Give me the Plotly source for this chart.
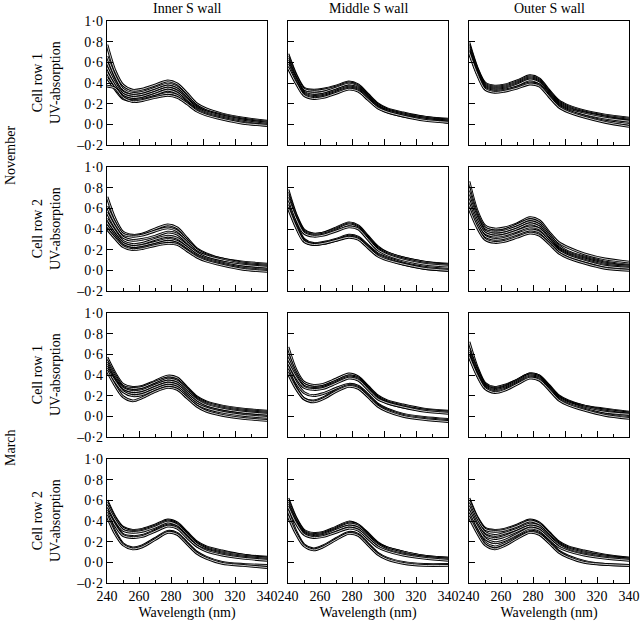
import plotly.graph_objects as go

# Wavelength sample points (nm)
wavelength = [240, 245, 250, 256, 262, 270, 278, 284, 290, 296, 302, 312, 325, 340]

column_titles = ["Inner S wall", "Middle S wall", "Outer S wall"]
row_labels = ["Cell row 1<br>UV-absorption", "Cell row 2<br>UV-absorption",
              "Cell row 1<br>UV-absorption", "Cell row 2<br>UV-absorption"]
season_labels = ["November", "March"]
x_tickvals = [240, 260, 280, 300, 320, 340]
x_ticktext = ["240", "260", "280", "300", "320", "340"]
y_tickvals = [-0.2, 0.0, 0.2, 0.4, 0.6, 0.8, 1.0]
y_ticktext = ["\u20130\u00b72", "0\u00b70", "0\u00b72", "0\u00b74", "0\u00b76", "0\u00b78", "1\u00b70"]

# November, cell row 1
nov_r1_inner = [
    [0.77, 0.52, 0.38, 0.33, 0.34, 0.38, 0.42, 0.39, 0.30, 0.20, 0.15, 0.10, 0.06, 0.03],
    [0.66, 0.47, 0.34, 0.30, 0.31, 0.35, 0.39, 0.36, 0.27, 0.18, 0.13, 0.09, 0.05, 0.02],
    [0.60, 0.42, 0.31, 0.28, 0.29, 0.33, 0.37, 0.34, 0.25, 0.17, 0.12, 0.08, 0.04, 0.01],
    [0.55, 0.40, 0.29, 0.26, 0.27, 0.31, 0.35, 0.32, 0.24, 0.16, 0.12, 0.08, 0.04, 0.01],
    [0.50, 0.37, 0.27, 0.24, 0.25, 0.29, 0.33, 0.30, 0.22, 0.15, 0.11, 0.07, 0.03, 0.00],
    [0.45, 0.34, 0.25, 0.23, 0.24, 0.27, 0.30, 0.28, 0.21, 0.14, 0.10, 0.06, 0.02, -0.01],
    [0.37, 0.35, 0.26, 0.22, 0.23, 0.26, 0.28, 0.26, 0.20, 0.13, 0.09, 0.05, 0.01, -0.01],
]
nov_r1_middle = [
    [0.68, 0.48, 0.35, 0.33, 0.34, 0.37, 0.41, 0.38, 0.29, 0.20, 0.15, 0.11, 0.07, 0.05],
    [0.66, 0.47, 0.34, 0.32, 0.33, 0.36, 0.40, 0.37, 0.28, 0.19, 0.14, 0.10, 0.07, 0.04],
    [0.64, 0.45, 0.32, 0.30, 0.31, 0.35, 0.39, 0.36, 0.27, 0.19, 0.14, 0.10, 0.06, 0.04],
    [0.62, 0.44, 0.31, 0.28, 0.29, 0.33, 0.37, 0.35, 0.26, 0.18, 0.13, 0.09, 0.06, 0.03],
    [0.60, 0.43, 0.30, 0.27, 0.28, 0.32, 0.36, 0.34, 0.26, 0.17, 0.13, 0.09, 0.05, 0.03],
    [0.58, 0.41, 0.29, 0.26, 0.27, 0.31, 0.35, 0.33, 0.25, 0.17, 0.12, 0.08, 0.05, 0.02],
    [0.55, 0.40, 0.28, 0.25, 0.26, 0.30, 0.34, 0.32, 0.24, 0.16, 0.12, 0.08, 0.04, 0.02],
]
nov_r1_outer = [
    [0.79, 0.55, 0.40, 0.37, 0.38, 0.42, 0.47, 0.44, 0.33, 0.23, 0.18, 0.13, 0.09, 0.06],
    [0.77, 0.54, 0.39, 0.36, 0.37, 0.41, 0.46, 0.43, 0.32, 0.22, 0.17, 0.12, 0.08, 0.05],
    [0.76, 0.53, 0.38, 0.35, 0.36, 0.40, 0.45, 0.42, 0.31, 0.21, 0.16, 0.11, 0.07, 0.04],
    [0.74, 0.52, 0.37, 0.34, 0.35, 0.39, 0.44, 0.41, 0.30, 0.20, 0.15, 0.11, 0.07, 0.03],
    [0.72, 0.51, 0.36, 0.33, 0.34, 0.38, 0.43, 0.40, 0.29, 0.19, 0.14, 0.10, 0.06, 0.03],
    [0.71, 0.50, 0.35, 0.32, 0.33, 0.36, 0.40, 0.38, 0.28, 0.18, 0.13, 0.08, 0.03, 0.00],
    [0.70, 0.49, 0.34, 0.31, 0.32, 0.35, 0.39, 0.37, 0.27, 0.17, 0.12, 0.07, 0.02, -0.02],
]

# November, cell row 2
nov_r2_inner = [
    [0.71, 0.50, 0.37, 0.34, 0.35, 0.40, 0.44, 0.41, 0.31, 0.21, 0.16, 0.11, 0.08, 0.06],
    [0.62, 0.46, 0.35, 0.33, 0.34, 0.38, 0.41, 0.38, 0.29, 0.20, 0.15, 0.11, 0.07, 0.05],
    [0.56, 0.42, 0.32, 0.29, 0.30, 0.33, 0.37, 0.35, 0.27, 0.18, 0.14, 0.10, 0.06, 0.04],
    [0.50, 0.38, 0.28, 0.25, 0.26, 0.30, 0.33, 0.31, 0.24, 0.17, 0.12, 0.08, 0.05, 0.03],
    [0.46, 0.35, 0.26, 0.23, 0.24, 0.27, 0.30, 0.28, 0.22, 0.15, 0.11, 0.07, 0.03, 0.01],
    [0.43, 0.33, 0.24, 0.21, 0.22, 0.25, 0.28, 0.26, 0.20, 0.14, 0.10, 0.06, 0.02, 0.00],
    [0.40, 0.31, 0.23, 0.20, 0.21, 0.24, 0.26, 0.25, 0.19, 0.13, 0.09, 0.05, 0.01, -0.01],
]
nov_r2_middle = [
    [0.78, 0.54, 0.39, 0.35, 0.36, 0.41, 0.46, 0.43, 0.33, 0.23, 0.17, 0.12, 0.08, 0.06],
    [0.75, 0.53, 0.38, 0.35, 0.36, 0.40, 0.45, 0.42, 0.32, 0.22, 0.17, 0.12, 0.08, 0.05],
    [0.73, 0.51, 0.37, 0.34, 0.35, 0.39, 0.44, 0.41, 0.31, 0.21, 0.16, 0.11, 0.07, 0.05],
    [0.70, 0.50, 0.36, 0.33, 0.34, 0.38, 0.42, 0.40, 0.30, 0.20, 0.15, 0.10, 0.06, 0.04],
    [0.66, 0.45, 0.30, 0.26, 0.27, 0.30, 0.34, 0.32, 0.24, 0.16, 0.12, 0.07, 0.03, 0.01],
    [0.63, 0.43, 0.29, 0.25, 0.26, 0.29, 0.33, 0.31, 0.23, 0.15, 0.11, 0.06, 0.02, 0.00],
    [0.61, 0.42, 0.28, 0.25, 0.26, 0.29, 0.32, 0.30, 0.22, 0.14, 0.10, 0.06, 0.02, 0.00],
]
nov_r2_outer = [
    [0.86, 0.58, 0.43, 0.40, 0.41, 0.45, 0.51, 0.48, 0.37, 0.27, 0.22, 0.16, 0.11, 0.08],
    [0.80, 0.55, 0.41, 0.38, 0.39, 0.44, 0.49, 0.46, 0.35, 0.24, 0.18, 0.13, 0.08, 0.05],
    [0.76, 0.53, 0.39, 0.37, 0.38, 0.42, 0.47, 0.44, 0.33, 0.22, 0.17, 0.12, 0.07, 0.04],
    [0.72, 0.51, 0.38, 0.35, 0.36, 0.40, 0.45, 0.42, 0.31, 0.21, 0.16, 0.11, 0.06, 0.04],
    [0.68, 0.48, 0.36, 0.33, 0.34, 0.38, 0.42, 0.40, 0.30, 0.20, 0.15, 0.10, 0.05, 0.03],
    [0.64, 0.45, 0.33, 0.30, 0.31, 0.35, 0.39, 0.37, 0.28, 0.19, 0.14, 0.09, 0.04, 0.02],
    [0.60, 0.42, 0.30, 0.27, 0.28, 0.32, 0.36, 0.34, 0.26, 0.17, 0.12, 0.07, 0.02, 0.00],
]

# March, cell row 1
mar_r1_inner = [
    [0.57, 0.42, 0.31, 0.28, 0.29, 0.34, 0.39, 0.37, 0.28, 0.19, 0.14, 0.10, 0.07, 0.05],
    [0.54, 0.40, 0.29, 0.27, 0.28, 0.33, 0.37, 0.35, 0.27, 0.18, 0.13, 0.09, 0.06, 0.04],
    [0.52, 0.38, 0.28, 0.25, 0.26, 0.31, 0.36, 0.34, 0.26, 0.17, 0.12, 0.08, 0.05, 0.03],
    [0.50, 0.36, 0.27, 0.24, 0.25, 0.30, 0.34, 0.32, 0.24, 0.16, 0.11, 0.07, 0.04, 0.02],
    [0.48, 0.35, 0.25, 0.22, 0.23, 0.28, 0.32, 0.30, 0.22, 0.14, 0.09, 0.05, 0.02, 0.00],
    [0.46, 0.34, 0.24, 0.20, 0.21, 0.26, 0.30, 0.28, 0.20, 0.12, 0.08, 0.04, 0.01, -0.01],
    [0.44, 0.30, 0.19, 0.15, 0.18, 0.24, 0.28, 0.26, 0.18, 0.10, 0.05, 0.01, -0.02, -0.04],
]
mar_r1_middle = [
    [0.67, 0.45, 0.33, 0.30, 0.31, 0.36, 0.41, 0.38, 0.29, 0.20, 0.15, 0.11, 0.07, 0.05],
    [0.60, 0.42, 0.31, 0.28, 0.29, 0.34, 0.39, 0.37, 0.28, 0.19, 0.14, 0.10, 0.06, 0.04],
    [0.56, 0.40, 0.29, 0.27, 0.28, 0.33, 0.38, 0.36, 0.27, 0.18, 0.13, 0.09, 0.06, 0.04],
    [0.52, 0.38, 0.28, 0.26, 0.27, 0.32, 0.37, 0.35, 0.26, 0.17, 0.13, 0.09, 0.05, 0.03],
    [0.48, 0.33, 0.23, 0.20, 0.22, 0.27, 0.31, 0.29, 0.21, 0.12, 0.07, 0.02, -0.01, -0.03],
    [0.45, 0.28, 0.17, 0.15, 0.18, 0.25, 0.30, 0.28, 0.20, 0.11, 0.06, 0.01, -0.02, -0.04],
    [0.42, 0.27, 0.17, 0.14, 0.17, 0.24, 0.29, 0.27, 0.19, 0.10, 0.05, 0.00, -0.03, -0.05],
]
mar_r1_outer = [
    [0.72, 0.48, 0.32, 0.28, 0.30, 0.35, 0.41, 0.39, 0.30, 0.20, 0.15, 0.10, 0.07, 0.04],
    [0.66, 0.46, 0.31, 0.27, 0.29, 0.35, 0.41, 0.39, 0.29, 0.19, 0.14, 0.10, 0.06, 0.03],
    [0.64, 0.45, 0.30, 0.26, 0.28, 0.34, 0.40, 0.38, 0.29, 0.19, 0.14, 0.09, 0.06, 0.03],
    [0.62, 0.44, 0.30, 0.26, 0.28, 0.34, 0.40, 0.38, 0.28, 0.18, 0.13, 0.09, 0.05, 0.02],
    [0.60, 0.42, 0.29, 0.25, 0.27, 0.33, 0.39, 0.37, 0.28, 0.18, 0.13, 0.08, 0.04, 0.02],
    [0.59, 0.41, 0.28, 0.24, 0.26, 0.32, 0.38, 0.36, 0.27, 0.17, 0.12, 0.07, 0.02, -0.01],
    [0.58, 0.40, 0.27, 0.23, 0.25, 0.31, 0.37, 0.35, 0.26, 0.16, 0.11, 0.06, 0.01, -0.02],
]

# March, cell row 2
mar_r2_inner = [
    [0.60, 0.44, 0.34, 0.31, 0.32, 0.36, 0.41, 0.38, 0.29, 0.20, 0.15, 0.11, 0.07, 0.05],
    [0.58, 0.43, 0.33, 0.30, 0.31, 0.35, 0.40, 0.37, 0.28, 0.19, 0.14, 0.10, 0.07, 0.04],
    [0.55, 0.41, 0.31, 0.29, 0.30, 0.34, 0.39, 0.36, 0.27, 0.18, 0.13, 0.09, 0.06, 0.04],
    [0.52, 0.37, 0.27, 0.25, 0.26, 0.31, 0.36, 0.34, 0.25, 0.16, 0.12, 0.08, 0.05, 0.03],
    [0.50, 0.36, 0.26, 0.24, 0.25, 0.30, 0.35, 0.33, 0.24, 0.16, 0.11, 0.07, 0.04, 0.02],
    [0.48, 0.30, 0.18, 0.14, 0.16, 0.23, 0.30, 0.28, 0.19, 0.10, 0.05, 0.00, -0.02, -0.03],
    [0.45, 0.28, 0.17, 0.13, 0.15, 0.22, 0.29, 0.27, 0.18, 0.09, 0.04, -0.01, -0.03, -0.05],
]
mar_r2_middle = [
    [0.62, 0.43, 0.31, 0.28, 0.29, 0.34, 0.39, 0.36, 0.28, 0.19, 0.14, 0.10, 0.06, 0.04],
    [0.60, 0.42, 0.30, 0.27, 0.28, 0.33, 0.38, 0.36, 0.27, 0.18, 0.14, 0.10, 0.06, 0.04],
    [0.58, 0.40, 0.29, 0.26, 0.27, 0.32, 0.37, 0.35, 0.26, 0.18, 0.13, 0.09, 0.05, 0.03],
    [0.56, 0.39, 0.28, 0.25, 0.26, 0.31, 0.35, 0.33, 0.25, 0.17, 0.12, 0.08, 0.05, 0.03],
    [0.54, 0.38, 0.27, 0.24, 0.25, 0.29, 0.33, 0.31, 0.23, 0.15, 0.11, 0.07, 0.04, 0.02],
    [0.50, 0.30, 0.17, 0.13, 0.16, 0.23, 0.29, 0.27, 0.18, 0.09, 0.04, 0.00, -0.02, -0.02],
    [0.45, 0.28, 0.16, 0.12, 0.15, 0.22, 0.28, 0.26, 0.17, 0.08, 0.03, -0.01, -0.03, -0.03],
]
mar_r2_outer = [
    [0.62, 0.44, 0.33, 0.31, 0.32, 0.36, 0.41, 0.38, 0.29, 0.20, 0.15, 0.11, 0.07, 0.04],
    [0.60, 0.43, 0.32, 0.30, 0.31, 0.35, 0.40, 0.37, 0.28, 0.19, 0.14, 0.10, 0.06, 0.04],
    [0.57, 0.40, 0.29, 0.26, 0.28, 0.32, 0.37, 0.35, 0.26, 0.18, 0.13, 0.09, 0.06, 0.03],
    [0.54, 0.37, 0.26, 0.23, 0.25, 0.30, 0.35, 0.33, 0.25, 0.17, 0.12, 0.08, 0.05, 0.03],
    [0.50, 0.35, 0.23, 0.19, 0.21, 0.27, 0.33, 0.31, 0.23, 0.15, 0.11, 0.07, 0.04, 0.02],
    [0.47, 0.31, 0.19, 0.15, 0.18, 0.24, 0.30, 0.28, 0.20, 0.11, 0.06, 0.01, -0.02, -0.03],
    [0.44, 0.29, 0.17, 0.13, 0.16, 0.23, 0.29, 0.27, 0.19, 0.10, 0.05, 0.00, -0.02, -0.03],
]

panels = [
    [nov_r1_inner, nov_r1_middle, nov_r1_outer],
    [nov_r2_inner, nov_r2_middle, nov_r2_outer],
    [mar_r1_inner, mar_r1_middle, mar_r1_outer],
    [mar_r2_inner, mar_r2_middle, mar_r2_outer],
]

W, H = 640, 623
col_px = [(107, 267), (288, 448), (469, 629)]
row_px = [(21, 145), (167, 291), (313, 437), (459, 583)]
FONT = "Liberation Serif"


def px_x(v):
    return v / W


def px_y(v):
    return 1 - v / H


fig = go.Figure()
layout = dict(
    width=W, height=H, margin=dict(l=0, r=0, t=0, b=0, autoexpand=False),
    paper_bgcolor="white", plot_bgcolor="white", showlegend=False,
    font=dict(family=FONT, size=14, color="black"),
)

annotations = []
for r in range(4):
    for c in range(3):
        idx = r * 3 + c + 1
        xa = "x" if idx == 1 else f"x{idx}"
        ya = "y" if idx == 1 else f"y{idx}"
        for curve in panels[r][c]:
            fig.add_trace(go.Scatter(x=wavelength, y=curve, mode="lines",
                                     line=dict(color="black", width=2.8, shape="spline", smoothing=0.8),
                                     xaxis=xa, yaxis=ya, hoverinfo="skip"))
            fig.add_trace(go.Scatter(x=wavelength, y=curve, mode="lines",
                                     line=dict(color="white", width=0.8, shape="spline", smoothing=0.8),
                                     xaxis=xa, yaxis=ya, hoverinfo="skip"))
        x0, x1 = col_px[c]
        y0, y1 = row_px[r]
        layout["xaxis" if idx == 1 else f"xaxis{idx}"] = dict(
            domain=[px_x(x0), px_x(x1)], range=[240, 340], anchor=ya, automargin=False,
            showgrid=False, zeroline=False, showline=True, linecolor="black", linewidth=1.2,
            mirror=True, ticks="inside", ticklen=6, tickwidth=1, tickcolor="black",
            tickvals=x_tickvals, ticktext=x_ticktext, showticklabels=(r == 3),
            tickfont=dict(family=FONT, size=14),
            minor=dict(ticks="inside", dtick=10, tick0=250, ticklen=3, tickwidth=1, tickcolor="black", showgrid=False),
            title=dict(text="Wavelength (nm)" if r == 3 else "", font=dict(family=FONT, size=14), standoff=4),
        )
        layout["yaxis" if idx == 1 else f"yaxis{idx}"] = dict(
            domain=[px_y(y1), px_y(y0)], range=[-0.2, 1.0], anchor=xa, automargin=False,
            showgrid=False, zeroline=False, showline=True, linecolor="black", linewidth=1.2,
            mirror=True, ticks="inside", ticklen=6, tickwidth=1, tickcolor="black",
            tickvals=y_tickvals, ticktext=y_ticktext, showticklabels=(c == 0),
            tickfont=dict(family=FONT, size=14),
        )
    # row label
    y0, y1 = row_px[r]
    annotations.append(dict(text=row_labels[r], x=px_x(46), y=px_y((y0 + y1) / 2), xref="paper", yref="paper",
                            showarrow=False, textangle=-90, font=dict(family=FONT, size=14),
                            xanchor="center", yanchor="middle"))

for c in range(3):
    x0, x1 = col_px[c]
    annotations.append(dict(text=column_titles[c], x=px_x((x0 + x1) / 2), y=px_y(8), xref="paper", yref="paper",
                            showarrow=False, font=dict(family=FONT, size=14), xanchor="center", yanchor="middle"))

season_y = [156, 448]
for s in range(2):
    annotations.append(dict(text=season_labels[s], x=px_x(10), y=px_y(season_y[s]), xref="paper", yref="paper",
                            showarrow=False, textangle=-90, font=dict(family=FONT, size=14),
                            xanchor="center", yanchor="middle"))

layout["annotations"] = annotations
fig.update_layout(**layout)
fig.write_html("out.html",
               config={"displayModeBar": False, "staticPlot": True},
               post_script="document.body.style.margin='0';document.body.style.overflow='hidden';")
